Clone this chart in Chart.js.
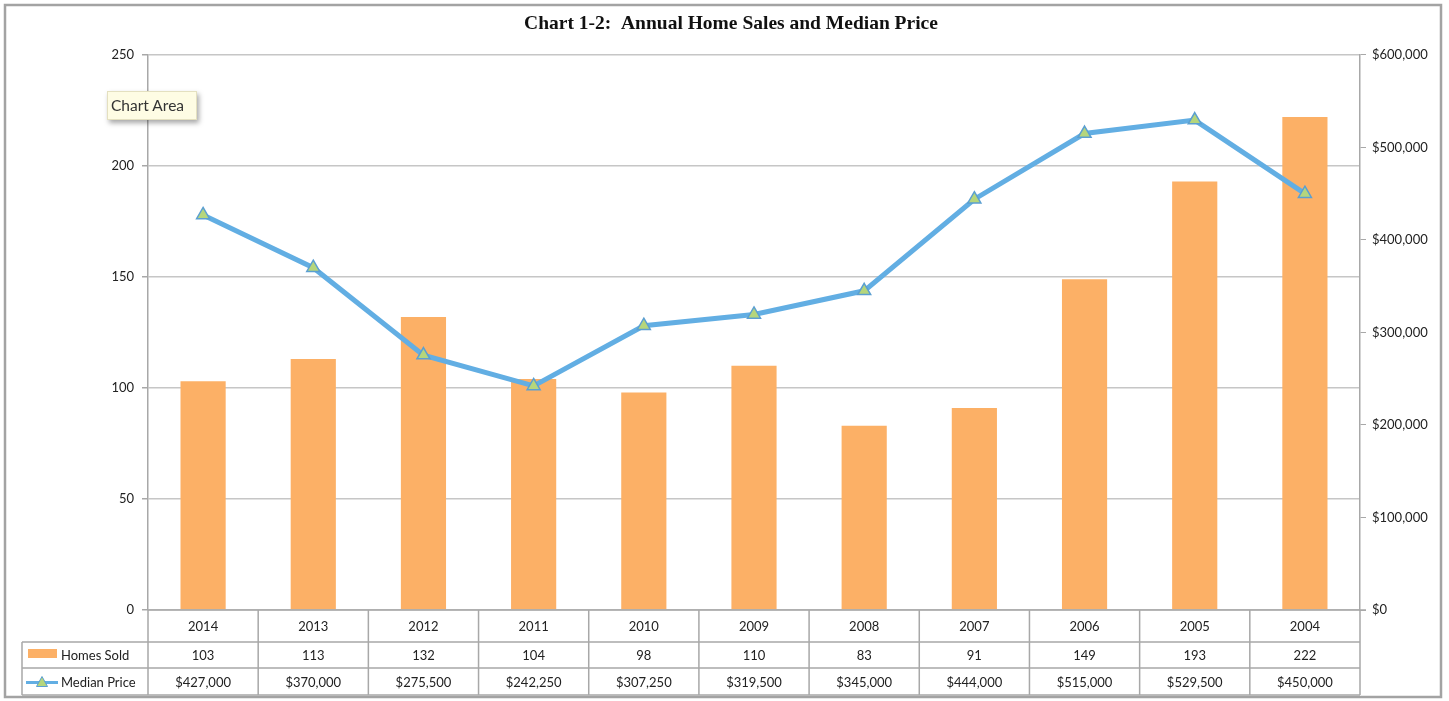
<!DOCTYPE html>
<html lang="en">
<head>
  <meta charset="UTF-8" />
  <title>Annual Home Sales and Median Price</title>
  <script src="https://cdn.jsdelivr.net/npm/chart.js"></script>
  <style>
    body { margin: 0; background: #fff; }
    #wrap { position: relative; width: 1449px; height: 701px; }
    #tip {
      position: absolute; left: 107px; top: 91px; width: 90px; height: 29px;
      box-sizing: border-box; padding: 4px 0 0 3px; line-height: 22px;
      background: #fefce4; border: 1px solid #e4e0c0;
      box-shadow: 2px 3px 5px rgba(0,0,0,0.35);
      font: 15.5px Lato, "Open Sans", sans-serif; color: #333;
    }
  </style>
</head>
<body>
  <div id="wrap">
    <canvas id="salesChart" width="1449" height="701"></canvas>
    <div id="tip">Chart Area</div>
  </div>

  <script>
    const years = ['2014', '2013', '2012', '2011', '2010', '2009', '2008', '2007', '2006', '2005', '2004'];
    const homesSold = [103, 113, 132, 104, 98, 110, 83, 91, 149, 193, 222];
    const medianPrice = [427000, 370000, 275500, 242250, 307250, 319500, 345000, 444000, 515000, 529500, 450000];

    const barColor = '#fcb066';
    const lineColor = '#62aee3';
    const tableFont = '13px Lato, "Open Sans", sans-serif';
    const money = v => '$' + v.toLocaleString('en-US');

    // frame + data table under the plot
    const tablePlugin = {
      id: 'dataTable',
      beforeDraw(chart) {
        const c = chart.ctx;
        c.save();
        c.fillStyle = '#fff';
        c.fillRect(0, 0, chart.width, chart.height);
        c.strokeStyle = '#a3a3a3';
        c.lineWidth = 2.5;
        c.strokeRect(5, 5, 1436, 692);
        c.restore();
      },
      afterDraw(chart) {
        const c = chart.ctx;
        const ca = chart.chartArea;
        const xs = chart.scales.x;
        const half = (ca.right - ca.left) / years.length / 2;
        const r0 = ca.bottom, r1 = r0 + 32, r2 = r0 + 58, r3 = r0 + 85;
        const legLeft = 22;

        c.save();
        c.strokeStyle = '#a8a8a8';
        c.lineWidth = 1.5;
        c.beginPath();
        c.moveTo(ca.left, r0); c.lineTo(ca.right + 6, r0);
        [r1, r2, r3].forEach(y => { c.moveTo(legLeft, y); c.lineTo(ca.right, y); });
        c.moveTo(legLeft, r1); c.lineTo(legLeft, r3);
        c.moveTo(ca.left, r0); c.lineTo(ca.left, r3);
        years.forEach((y, i) => {
          const x = xs.getPixelForValue(i) + half;
          c.moveTo(x, r0); c.lineTo(x, r3);
        });
        c.stroke();

        c.font = tableFont;
        c.fillStyle = '#222';
        c.textAlign = 'center';
        c.textBaseline = 'middle';
        years.forEach((y, i) => {
          const x = xs.getPixelForValue(i);
          c.fillText(y, x, (r0 + r1) / 2 + 1);
          c.fillText(String(homesSold[i]), x, (r1 + r2) / 2 + 1);
          c.fillText(money(medianPrice[i]), x, (r2 + r3) / 2 + 1);
        });

        // legend keys
        c.textAlign = 'left';
        c.fillStyle = barColor;
        c.fillRect(28, r1 + 7, 29, 9);
        c.fillStyle = '#222';
        c.fillText('Homes Sold', 61, (r1 + r2) / 2 + 1);

        const ly = (r2 + r3) / 2 + 1;
        c.strokeStyle = lineColor;
        c.lineWidth = 3;
        c.beginPath(); c.moveTo(26, ly); c.lineTo(58, ly); c.stroke();
        c.fillStyle = '#b5d67c';
        c.strokeStyle = '#5b9fd1';
        c.lineWidth = 1;
        c.beginPath();
        c.moveTo(42, ly - 6); c.lineTo(47.5, ly + 4); c.lineTo(36.5, ly + 4); c.closePath();
        c.fill(); c.stroke();
        c.fillStyle = '#222';
        c.fillText('Median Price', 61, ly);
        c.restore();
      }
    };

    const tickFont = { family: 'Lato, "Open Sans", sans-serif', size: 13 };

    new Chart(document.getElementById('salesChart'), {
      data: {
        labels: years,
        datasets: [
          {
            type: 'line',
            label: 'Median Price',
            data: medianPrice,
            yAxisID: 'y1',
            order: 0,
            borderColor: lineColor,
            borderWidth: 5,
            tension: 0,
            pointStyle: 'triangle',
            pointRadius: 7.5,
            pointBackgroundColor: '#b5d67c',
            pointBorderColor: '#5b9fd1',
            pointBorderWidth: 1.5
          },
          {
            type: 'bar',
            label: 'Homes Sold',
            data: homesSold,
            yAxisID: 'y',
            order: 1,
            backgroundColor: barColor,
            categoryPercentage: 1,
            barPercentage: 0.41
          }
        ]
      },
      options: {
        responsive: false,
        animation: false,
        layout: { padding: { left: 22, right: 9, top: 0, bottom: 91 } },
        plugins: {
          legend: { display: false },
          tooltip: { enabled: false },
          title: {
            display: true,
            text: 'Chart 1-2:  Annual Home Sales and Median Price',
            color: '#111',
            font: { family: '"Liberation Serif", serif', weight: 'bold', size: 19.5 },
            padding: { top: 12, bottom: 19.5 }
          }
        },
        scales: {
          x: { display: false },
          y: {
            position: 'left',
            min: 0, max: 250,
            afterFit: s => { s.width = 126; },
            ticks: { stepSize: 50, font: tickFont, color: '#222', padding: 8 },
            grid: { color: '#c6c6c6', lineWidth: 1.5, tickLength: 6, tickColor: '#a8a8a8' },
            border: { color: '#a8a8a8', width: 1.5 }
          },
          y1: {
            position: 'right',
            min: 0, max: 600000,
            afterFit: s => { s.width = 80; },
            ticks: { stepSize: 100000, font: tickFont, color: '#222', padding: 6, callback: v => money(v) },
            grid: { drawOnChartArea: false, tickLength: 6, tickColor: '#a8a8a8' },
            border: { color: '#a8a8a8', width: 1.5 }
          }
        }
      },
      plugins: [tablePlugin]
    });
  </script>
</body>
</html>
